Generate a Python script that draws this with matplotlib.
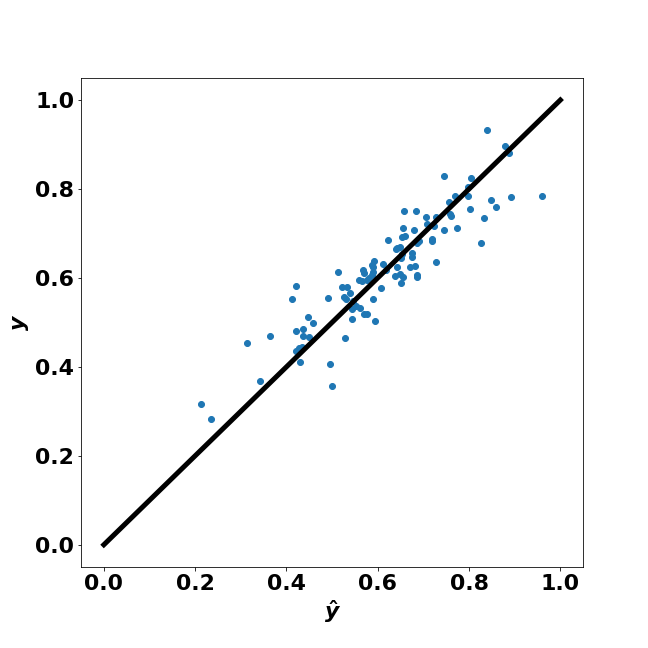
import matplotlib
matplotlib.use("Agg")
import matplotlib.pyplot as plt
import numpy as np

plt.rcParams["font.weight"] = "bold"
plt.rcParams["font.size"] = 22

# predicted values (y hat) and observed values (y)
y_hat = np.array([
    0.212, 0.234, 0.343, 0.313, 0.365, 0.421, 0.413, 0.422, 0.437, 0.448,
    0.459, 0.437, 0.450, 0.422, 0.428, 0.434, 0.429, 0.496, 0.499, 0.528,
    0.490, 0.512, 0.521, 0.532, 0.539, 0.526, 0.531, 0.545, 0.552, 0.544,
    0.561, 0.576, 0.570, 0.544, 0.594, 0.590, 0.607, 0.560, 0.565, 0.576,
    0.567, 0.569, 0.587, 0.590, 0.592, 0.587, 0.581, 0.612, 0.623, 0.643,
    0.648, 0.643, 0.670, 0.682, 0.638, 0.648, 0.656, 0.652, 0.686, 0.686,
    0.619, 0.654, 0.659, 0.640, 0.675, 0.675, 0.690, 0.687, 0.654, 0.652,
    0.658, 0.684, 0.656, 0.680, 0.719, 0.719, 0.728, 0.705, 0.707, 0.723,
    0.728, 0.745, 0.774, 0.758, 0.761, 0.755, 0.769, 0.797, 0.798, 0.804,
    0.745, 0.802, 0.833, 0.826, 0.848, 0.860, 0.892, 0.959, 0.839, 0.878,
    0.887, 0.589,
])
y_true = np.array([
    0.317, 0.282, 0.368, 0.454, 0.469, 0.581, 0.552, 0.480, 0.485, 0.513,
    0.498, 0.470, 0.467, 0.436, 0.442, 0.444, 0.411, 0.406, 0.357, 0.464,
    0.554, 0.613, 0.580, 0.580, 0.565, 0.558, 0.552, 0.547, 0.536, 0.530,
    0.532, 0.519, 0.519, 0.508, 0.503, 0.553, 0.577, 0.596, 0.592, 0.596,
    0.618, 0.611, 0.629, 0.614, 0.637, 0.607, 0.599, 0.631, 0.685, 0.667,
    0.670, 0.625, 0.624, 0.627, 0.604, 0.608, 0.601, 0.589, 0.607, 0.603,
    0.618, 0.691, 0.695, 0.664, 0.657, 0.648, 0.682, 0.678, 0.654, 0.644,
    0.751, 0.751, 0.712, 0.708, 0.687, 0.683, 0.635, 0.737, 0.721, 0.717,
    0.738, 0.707, 0.712, 0.743, 0.739, 0.771, 0.784, 0.784, 0.804, 0.824,
    0.828, 0.754, 0.734, 0.678, 0.776, 0.759, 0.781, 0.784, 0.932, 0.897,
    0.880, 0.625,
])

fig = plt.figure(figsize=(9, 9), dpi=72)
ax = fig.add_axes([0.125, 0.125, 0.775, 0.755])

ax.scatter(y_hat, y_true)
ax.plot([0, 1], [0, 1], color="black", linewidth=5)

ax.set_xlabel(r"$\hat{y}$")
ax.set_ylabel(r"$y$")

fig.savefig("out.png", dpi=72)
